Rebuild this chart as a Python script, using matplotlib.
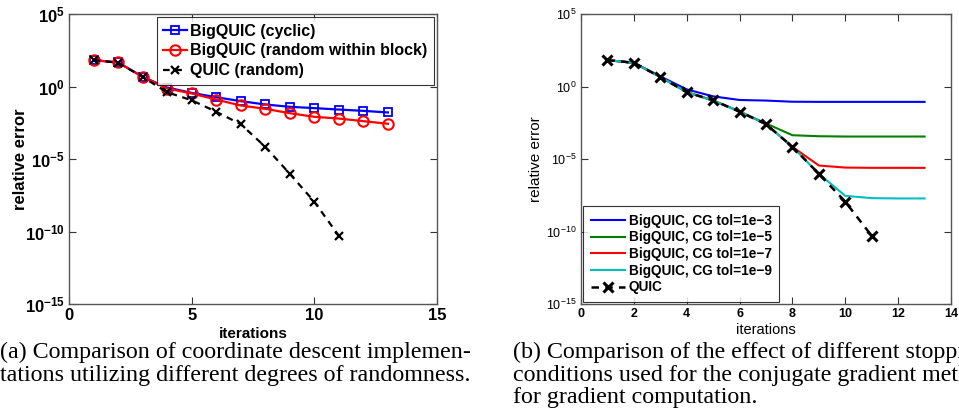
import matplotlib
matplotlib.use("Agg")
import matplotlib.pyplot as plt
import numpy as np
from matplotlib.ticker import FixedLocator, FixedFormatter

# ---------------- data (log10 of relative error) ----------------
iters_a = [1, 2, 3, 4, 5, 6, 7, 8, 9, 10, 11, 12, 13]
cyclic_log = [1.82, 1.66, 0.67, -0.07, -0.44, -0.74, -1.01, -1.24, -1.40, -1.49, -1.59, -1.68, -1.79]
randblock_log = [1.82, 1.66, 0.67, -0.14, -0.48, -0.90, -1.31, -1.54, -1.84, -2.09, -2.21, -2.39, -2.57]
iters_q = [1, 2, 3, 4, 5, 6, 7, 8, 9, 10, 11]
quic_log = [1.82, 1.64, 0.66, -0.40, -0.95, -1.74, -2.60, -4.16, -6.02, -7.95, -10.30]

iters_b = [1, 2, 3, 4, 5, 6, 7, 8, 9, 10, 11, 12, 13]
tol3_log = [1.82, 1.63, 0.70, -0.20, -0.68, -0.93, -0.97, -1.05, -1.06, -1.06, -1.06, -1.06, -1.06]
tol5_log = [1.82, 1.63, 0.66, -0.38, -0.96, -1.72, -2.55, -3.36, -3.43, -3.45, -3.45, -3.45, -3.45]
tol7_log = [1.82, 1.63, 0.66, -0.39, -0.97, -1.72, -2.60, -4.16, -5.45, -5.59, -5.61, -5.61, -5.61]
tol9_log = [1.82, 1.63, 0.66, -0.39, -0.97, -1.72, -2.60, -4.16, -6.02, -7.54, -7.70, -7.72, -7.72]

ytick_exp = [-15, -10, -5, 0, 5]
xticks_a = [0, 5, 10, 15]
xticks_b = [0, 2, 4, 6, 8, 10, 12, 14]

caption_a = ["(a) Comparison of coordinate descent implemen-",
             "tations utilizing different degrees of randomness."]
caption_b = ["(b) Comparison of the effect of different stopping",
             "conditions used for the conjugate gradient method",
             "for gradient computation."]

plt.rcParams['font.family'] = ['Liberation Sans', 'DejaVu Sans']
plt.rcParams['mathtext.fontset'] = 'custom'
plt.rcParams['mathtext.rm'] = 'Liberation Sans'
plt.rcParams['mathtext.bf'] = 'Liberation Sans:bold'
plt.rcParams['mathtext.it'] = 'Liberation Sans'

fig = plt.figure(figsize=(9.59, 4.17), dpi=100)
axa = fig.add_axes([69/959, 1-304/417, 368/959, 290/417])
axb = fig.add_axes([581/959, 1-304/417, 370/959, 290/417])

def p10(v):
    return [10.0 ** x for x in v]

# ---- panel a ----
axa.plot(iters_a, p10(cyclic_log), '-s', color='#0000ff', mfc='none', mec='#0000ff',
         ms=6, lw=1.6, mew=1.3, label='BigQUIC (cyclic)')
axa.plot(iters_a, p10(randblock_log), '-o', color='#ff0000', mfc='none', mec='#ff0000',
         ms=7.5, lw=1.6, mew=1.5, label='BigQUIC (random within block)')
axa.plot(iters_q, p10(quic_log), '--x', color='black', ms=6, lw=1.6, mew=1.6,
         dashes=(3, 2.5), label='QUIC (random)')

# ---- panel b ----
axb.plot(iters_b, p10(tol3_log), '-', color='#0000ff', lw=1.5, label='BigQUIC, CG tol=1e\u22123')
axb.plot(iters_b, p10(tol5_log), '-', color='#008000', lw=1.5, label='BigQUIC, CG tol=1e\u22125')
axb.plot(iters_b, p10(tol7_log), '-', color='#ff0000', lw=1.5, label='BigQUIC, CG tol=1e\u22127')
axb.plot(iters_b, p10(tol9_log), '-', color='#00bfbf', lw=1.5, label='BigQUIC, CG tol=1e\u22129')
axb.plot(iters_q, p10(quic_log), '--x', color='black', ms=7, lw=1.8, mew=2.2,
         dashes=(3, 2.5), label='QUIC')

for ax, xt, xmax, bold, tfs in [(axa, xticks_a, 15, True, 12), (axb, xticks_b, 14, False, 9)]:
    ax.set_yscale('log')
    ax.set_ylim(1e-15, 1e5)
    ax.set_xlim(0, xmax)
    ax.xaxis.set_major_locator(FixedLocator(xt))
    ax.xaxis.set_minor_locator(FixedLocator([]))
    ax.yaxis.set_major_locator(FixedLocator([10.0 ** e for e in ytick_exp]))
    ax.yaxis.set_minor_locator(FixedLocator([]))
    if bold:
        ylabs = [r'$\mathbf{10}^{\mathbf{%d}}$' % e for e in ytick_exp]
    else:
        ylabs = [r'$\mathrm{10}^{\mathrm{%d}}$' % e for e in ytick_exp]
    ax.yaxis.set_major_formatter(FixedFormatter(ylabs))
    ax.xaxis.set_major_formatter(FixedFormatter([str(v) for v in xt]))
    ax.tick_params(which='both', direction='in', top=True, right=True, length=5,
                   width=0.8, color='#333333', labelsize=tfs, pad=3)
    for lab in ax.get_xticklabels():
        lab.set_fontweight('bold')
    if bold:
        for lab in ax.get_yticklabels():
            lab.set_fontweight('bold')
    for s in ax.spines.values():
        s.set_color('#555555')
        s.set_linewidth(1.0)

axa.set_xlabel('iterations', fontsize=11, fontweight='bold', labelpad=3)
axa.set_ylabel('relative error', fontsize=12, fontweight='bold', labelpad=-2)
axb.set_xlabel('iterations', fontsize=10.5, labelpad=2)
axb.set_ylabel('relative error', fontsize=11, labelpad=2)

la = axa.legend(loc='upper right', frameon=True, fancybox=False,
                edgecolor='black', handlelength=1.5, handletextpad=0.2,
                borderpad=0.4, labelspacing=0.3, borderaxespad=0.2,
                prop={'weight': 'bold', 'size': 11.5})
la.get_frame().set_linewidth(0.8)
lb = axb.legend(loc='lower left', frameon=True, fancybox=False,
                edgecolor='black', handlelength=2.5, handletextpad=0.3,
                borderpad=0.55, labelspacing=0.2, borderaxespad=0.15,
                prop={'weight': 'bold', 'size': 9.8})
lb.get_frame().set_linewidth(0.8)

for i, line in enumerate(caption_a):
    fig.text(0.0, 1 - (352 + 23 * i) / 417, line, family='Liberation Serif',
             fontsize=17.3, va='center', ha='left')
for i, line in enumerate(caption_b):
    fig.text(513 / 959, 1 - (352 + 23 * i) / 417, line, family='Liberation Serif',
             fontsize=17.3, va='center', ha='left')

fig.savefig('out.png', dpi=100)
